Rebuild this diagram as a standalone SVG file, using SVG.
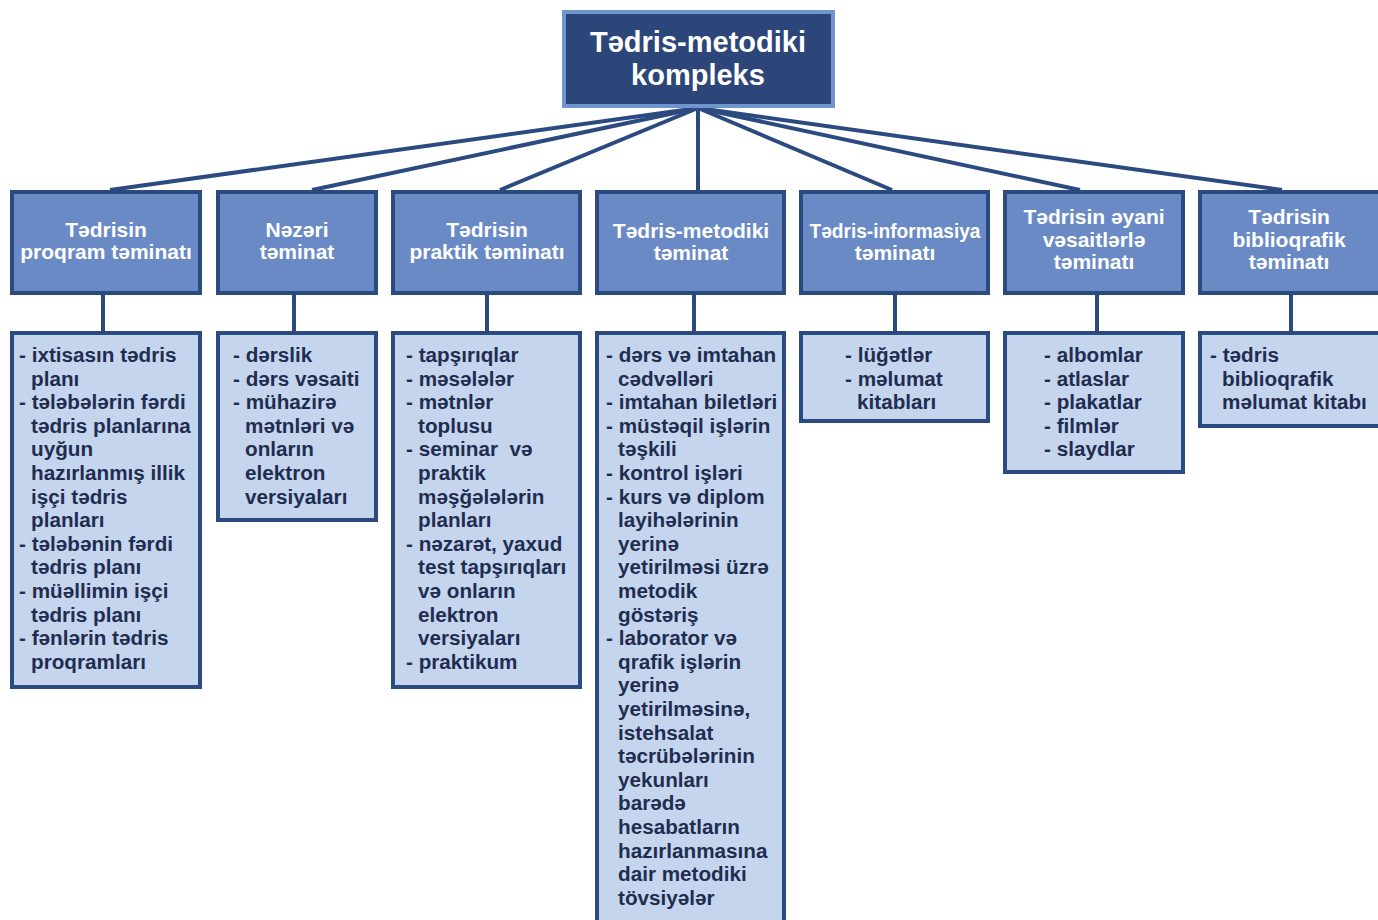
<svg xmlns="http://www.w3.org/2000/svg" width="1378" height="920" viewBox="0 0 1378 920">
<style>
.top{fill:#2C4679;stroke:#7094CE;stroke-width:4}
.hdr{fill:#6A8AC6;stroke:#2B4A80;stroke-width:4}
.cld{fill:#C6D5EE;stroke:#2B4A80;stroke-width:4}
.ttl{font-family:"Liberation Sans",Arial,sans-serif;font-weight:bold;font-size:29px;fill:#FFFFFF;text-anchor:middle}
.ht{font-family:"Liberation Sans",Arial,sans-serif;font-weight:bold;font-size:21px;fill:#FFFFFF;text-anchor:middle}
.ct{font-family:"Liberation Sans",Arial,sans-serif;font-weight:bold;font-size:20.7px;fill:#1F2D50}
.con{stroke:#2B4A80;stroke-width:4;fill:none}
</style>
<rect width="1378" height="920" fill="#FFFFFF"/>
<g id="connectors">
<line class="con" x1="698" y1="108" x2="110" y2="190"/>
<line class="con" x1="698" y1="108" x2="312" y2="190"/>
<line class="con" x1="698" y1="108" x2="500" y2="190"/>
<line class="con" x1="698" y1="108" x2="698" y2="190"/>
<line class="con" x1="698" y1="108" x2="892" y2="190"/>
<line class="con" x1="698" y1="108" x2="1080" y2="190"/>
<line class="con" x1="698" y1="108" x2="1282" y2="190"/>
<line class="con" x1="103" y1="295" x2="103" y2="331"/>
<line class="con" x1="294" y1="295" x2="294" y2="331"/>
<line class="con" x1="487" y1="295" x2="487" y2="331"/>
<line class="con" x1="694" y1="295" x2="694" y2="331"/>
<line class="con" x1="895" y1="295" x2="895" y2="331"/>
<line class="con" x1="1097" y1="295" x2="1097" y2="331"/>
<line class="con" x1="1291" y1="295" x2="1291" y2="331"/>
</g>
<g id="root">
<rect class="top" x="564" y="12" width="269" height="94"/>
<text class="ttl" x="698" y="52">Tədris-metodiki</text>
<text class="ttl" x="698" y="85">kompleks</text>
</g>
<g id="h1">
<rect class="hdr" x="12" y="192" width="188" height="101"/>
<text class="ht" x="106" y="237">Tədrisin</text>
<text class="ht" x="106" y="259">proqram təminatı</text>
</g>
<g id="h2">
<rect class="hdr" x="218" y="192" width="158" height="101"/>
<text class="ht" x="297" y="237">Nəzəri</text>
<text class="ht" x="297" y="259">təminat</text>
</g>
<g id="h3">
<rect class="hdr" x="393" y="192" width="187" height="101"/>
<text class="ht" x="487" y="237">Tədrisin</text>
<text class="ht" x="487" y="259">praktik təminatı</text>
</g>
<g id="h4">
<rect class="hdr" x="597" y="192" width="187" height="101"/>
<text class="ht" x="691" y="238">Tədris-metodiki</text>
<text class="ht" x="691" y="260">təminat</text>
</g>
<g id="h5">
<rect class="hdr" x="801" y="192" width="187" height="101"/>
<text class="ht" x="895" y="238" textLength="171" lengthAdjust="spacingAndGlyphs">Tədris-informasiya</text>
<text class="ht" x="895" y="260">təminatı</text>
</g>
<g id="h6">
<rect class="hdr" x="1005" y="192" width="178" height="101"/>
<text class="ht" x="1094" y="224">Tədrisin əyani</text>
<text class="ht" x="1094" y="247">vəsaitlərlə</text>
<text class="ht" x="1094" y="269">təminatı</text>
</g>
<g id="h7">
<rect class="hdr" x="1200" y="192" width="190" height="101"/>
<text class="ht" x="1289" y="224">Tədrisin</text>
<text class="ht" x="1289" y="247">biblioqrafik</text>
<text class="ht" x="1289" y="269">təminatı</text>
</g>
<g id="c1">
<rect class="cld" x="12" y="333" width="188" height="354"/>
<text class="ct">
<tspan x="19" y="362">- ixtisasın tədris</tspan>
<tspan x="31" y="385.6">planı</tspan>
<tspan x="19" y="409.2">- tələbələrin fərdi</tspan>
<tspan x="31" y="432.8">tədris planlarına</tspan>
<tspan x="31" y="456.4">uyğun</tspan>
<tspan x="31" y="480">hazırlanmış illik</tspan>
<tspan x="31" y="503.6">işçi tədris</tspan>
<tspan x="31" y="527.2">planları</tspan>
<tspan x="19" y="550.8">- tələbənin fərdi</tspan>
<tspan x="31" y="574.4">tədris planı</tspan>
<tspan x="19" y="598">- müəllimin işçi</tspan>
<tspan x="31" y="621.6">tədris planı</tspan>
<tspan x="19" y="645.2">- fənlərin tədris</tspan>
<tspan x="31" y="668.8">proqramları</tspan>
</text>
</g>
<g id="c2">
<rect class="cld" x="218" y="333" width="158" height="187"/>
<text class="ct">
<tspan x="233" y="362">- dərslik</tspan>
<tspan x="233" y="385.6">- dərs vəsaiti</tspan>
<tspan x="233" y="409.2">- mühazirə</tspan>
<tspan x="245" y="432.8">mətnləri və</tspan>
<tspan x="245" y="456.4">onların</tspan>
<tspan x="245" y="480">elektron</tspan>
<tspan x="245" y="503.6">versiyaları</tspan>
</text>
</g>
<g id="c3">
<rect class="cld" x="393" y="333" width="187" height="354"/>
<text class="ct">
<tspan x="406" y="362">- tapşırıqlar</tspan>
<tspan x="406" y="385.6">- məsələlər</tspan>
<tspan x="406" y="409.2">- mətnlər</tspan>
<tspan x="418" y="432.8">toplusu</tspan>
<tspan x="406" y="456.4">- seminar&#160; və</tspan>
<tspan x="418" y="480">praktik</tspan>
<tspan x="418" y="503.6">məşğələlərin</tspan>
<tspan x="418" y="527.2">planları</tspan>
<tspan x="406" y="550.8">- nəzarət, yaxud</tspan>
<tspan x="418" y="574.4">test tapşırıqları</tspan>
<tspan x="418" y="598">və onların</tspan>
<tspan x="418" y="621.6">elektron</tspan>
<tspan x="418" y="645.2">versiyaları</tspan>
<tspan x="406" y="668.8">- praktikum</tspan>
</text>
</g>
<g id="c4">
<rect class="cld" x="597" y="333" width="187" height="600"/>
<text class="ct">
<tspan x="606" y="362">- dərs və imtahan</tspan>
<tspan x="618" y="385.6">cədvəlləri</tspan>
<tspan x="606" y="409.2">- imtahan biletləri</tspan>
<tspan x="606" y="432.8">- müstəqil işlərin</tspan>
<tspan x="618" y="456.4">təşkili</tspan>
<tspan x="606" y="480">- kontrol işləri</tspan>
<tspan x="606" y="503.6">- kurs və diplom</tspan>
<tspan x="618" y="527.2">layihələrinin</tspan>
<tspan x="618" y="550.8">yerinə</tspan>
<tspan x="618" y="574.4">yetirilməsi üzrə</tspan>
<tspan x="618" y="598">metodik</tspan>
<tspan x="618" y="621.6">göstəriş</tspan>
<tspan x="606" y="645.2">- laborator və</tspan>
<tspan x="618" y="668.8">qrafik işlərin</tspan>
<tspan x="618" y="692.4">yerinə</tspan>
<tspan x="618" y="716">yetirilməsinə,</tspan>
<tspan x="618" y="739.6">istehsalat</tspan>
<tspan x="618" y="763.2">təcrübələrinin</tspan>
<tspan x="618" y="786.8">yekunları</tspan>
<tspan x="618" y="810.4">barədə</tspan>
<tspan x="618" y="834">hesabatların</tspan>
<tspan x="618" y="857.6">hazırlanmasına</tspan>
<tspan x="618" y="881.2">dair metodiki</tspan>
<tspan x="618" y="904.8">tövsiyələr</tspan>
</text>
</g>
<g id="c5">
<rect class="cld" x="801" y="333" width="187" height="88"/>
<text class="ct">
<tspan x="845" y="362">- lüğətlər</tspan>
<tspan x="845" y="385.6">- məlumat</tspan>
<tspan x="857" y="409.2">kitabları</tspan>
</text>
</g>
<g id="c6">
<rect class="cld" x="1005" y="333" width="178" height="139"/>
<text class="ct">
<tspan x="1044" y="362">- albomlar</tspan>
<tspan x="1044" y="385.6">- atlaslar</tspan>
<tspan x="1044" y="409.2">- plakatlar</tspan>
<tspan x="1044" y="432.8">- filmlər</tspan>
<tspan x="1044" y="456.4">- slaydlar</tspan>
</text>
</g>
<g id="c7">
<rect class="cld" x="1200" y="333" width="190" height="93"/>
<text class="ct">
<tspan x="1210" y="362">- tədris</tspan>
<tspan x="1222" y="385.6">biblioqrafik</tspan>
<tspan x="1222" y="409.2">məlumat kitabı</tspan>
</text>
</g>
</svg>
